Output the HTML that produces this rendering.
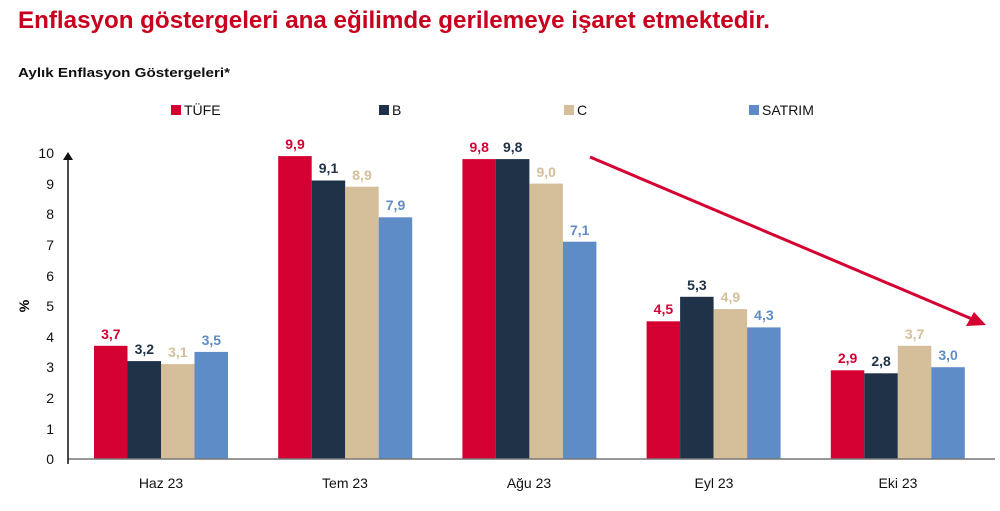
<!DOCTYPE html><html><head><meta charset="utf-8"><style>body{margin:0;background:#fff}svg{display:block}text{font-family:"Liberation Sans",sans-serif}</style></head><body>
<svg width="1000" height="511" xmlns="http://www.w3.org/2000/svg">
<text x="18" y="28" font-size="24" font-weight="bold" fill="#c8001e" textLength="752" lengthAdjust="spacingAndGlyphs">Enflasyon göstergeleri ana eğilimde gerilemeye işaret etmektedir.</text>
<text x="18" y="77" font-size="13" font-weight="bold" fill="#111" textLength="212" lengthAdjust="spacingAndGlyphs">Aylık Enflasyon Göstergeleri*</text>
<g font-size="14" fill="#111">
<rect x="171" y="105" width="10" height="10" fill="#d50032"/><text x="184" y="115">TÜFE</text>
<rect x="379" y="105" width="10" height="10" fill="#1f3247"/><text x="392" y="115">B</text>
<rect x="564" y="105" width="10" height="10" fill="#d4bf9a"/><text x="577" y="115">C</text>
<rect x="749" y="105" width="10" height="10" fill="#5e8cc7"/><text x="762" y="115">SATRIM</text>
</g>
<g font-size="14" fill="#111" text-anchor="end">
<text x="54" y="158">10</text><text x="54" y="189">9</text><text x="54" y="219">8</text><text x="54" y="250">7</text><text x="54" y="281">6</text><text x="54" y="311">5</text><text x="54" y="342">4</text><text x="54" y="372">3</text><text x="54" y="403">2</text><text x="54" y="434">1</text><text x="54" y="464">0</text>
</g>
<text x="0" y="0" font-size="14" font-weight="bold" transform="translate(29,306) rotate(-90)" text-anchor="middle">%</text>
<g>
<rect x="94" y="345.8" width="33.5" height="113.2" fill="#d50032"/>
<rect x="127.5" y="361.1" width="33.5" height="97.9" fill="#1f3247"/>
<rect x="161" y="364.1" width="33.5" height="94.9" fill="#d4bf9a"/>
<rect x="194.5" y="351.9" width="33.5" height="107.1" fill="#5e8cc7"/>
<rect x="278.2" y="156.1" width="33.5" height="302.9" fill="#d50032"/>
<rect x="311.7" y="180.5" width="33.5" height="278.5" fill="#1f3247"/>
<rect x="345.2" y="186.7" width="33.5" height="272.3" fill="#d4bf9a"/>
<rect x="378.7" y="217.3" width="33.5" height="241.7" fill="#5e8cc7"/>
<rect x="462.4" y="159.1" width="33.5" height="299.9" fill="#d50032"/>
<rect x="495.9" y="159.1" width="33.5" height="299.9" fill="#1f3247"/>
<rect x="529.4" y="183.6" width="33.5" height="275.4" fill="#d4bf9a"/>
<rect x="562.9" y="241.7" width="33.5" height="217.3" fill="#5e8cc7"/>
<rect x="646.6" y="321.3" width="33.5" height="137.7" fill="#d50032"/>
<rect x="680.1" y="296.8" width="33.5" height="162.2" fill="#1f3247"/>
<rect x="713.6" y="309.1" width="33.5" height="149.9" fill="#d4bf9a"/>
<rect x="747.1" y="327.4" width="33.5" height="131.6" fill="#5e8cc7"/>
<rect x="830.8" y="370.3" width="33.5" height="88.7" fill="#d50032"/>
<rect x="864.3" y="373.3" width="33.5" height="85.7" fill="#1f3247"/>
<rect x="897.8" y="345.8" width="33.5" height="113.2" fill="#d4bf9a"/>
<rect x="931.3" y="367.2" width="33.5" height="91.8" fill="#5e8cc7"/>
</g>
<g font-size="14" font-weight="bold" text-anchor="middle">
<text x="110.8" y="339" fill="#d50032">3,7</text>
<text x="144.3" y="354" fill="#1f3247">3,2</text>
<text x="177.8" y="357" fill="#d4bf9a">3,1</text>
<text x="211.3" y="345" fill="#5e8cc7">3,5</text>
<text x="295" y="149" fill="#d50032">9,9</text>
<text x="328.5" y="173" fill="#1f3247">9,1</text>
<text x="362" y="180" fill="#d4bf9a">8,9</text>
<text x="395.5" y="210" fill="#5e8cc7">7,9</text>
<text x="479.2" y="152" fill="#d50032">9,8</text>
<text x="512.7" y="152" fill="#1f3247">9,8</text>
<text x="546.2" y="177" fill="#d4bf9a">9,0</text>
<text x="579.7" y="235" fill="#5e8cc7">7,1</text>
<text x="663.4" y="314" fill="#d50032">4,5</text>
<text x="696.9" y="290" fill="#1f3247">5,3</text>
<text x="730.4" y="302" fill="#d4bf9a">4,9</text>
<text x="763.9" y="320" fill="#5e8cc7">4,3</text>
<text x="847.6" y="363" fill="#d50032">2,9</text>
<text x="881.1" y="366" fill="#1f3247">2,8</text>
<text x="914.6" y="339" fill="#d4bf9a">3,7</text>
<text x="948.1" y="360" fill="#5e8cc7">3,0</text>
</g>
<line x1="68" y1="459" x2="995" y2="459" stroke="#777" stroke-width="1.5"/>
<line x1="68" y1="158" x2="68" y2="464" stroke="#111" stroke-width="1.5"/>
<polygon points="63,160 73,160 68,152" fill="#111"/>
<g font-size="14" fill="#111" text-anchor="middle">
<text x="161" y="488">Haz 23</text><text x="345" y="488">Tem 23</text><text x="529" y="488">Ağu 23</text><text x="714" y="488">Eyl 23</text><text x="898" y="488">Eki 23</text>
</g>
<line x1="590" y1="157" x2="972" y2="319" stroke="#d50032" stroke-width="3"/>
<polygon points="986,325 966,326 974,312" fill="#d50032"/>
</svg></body></html>
